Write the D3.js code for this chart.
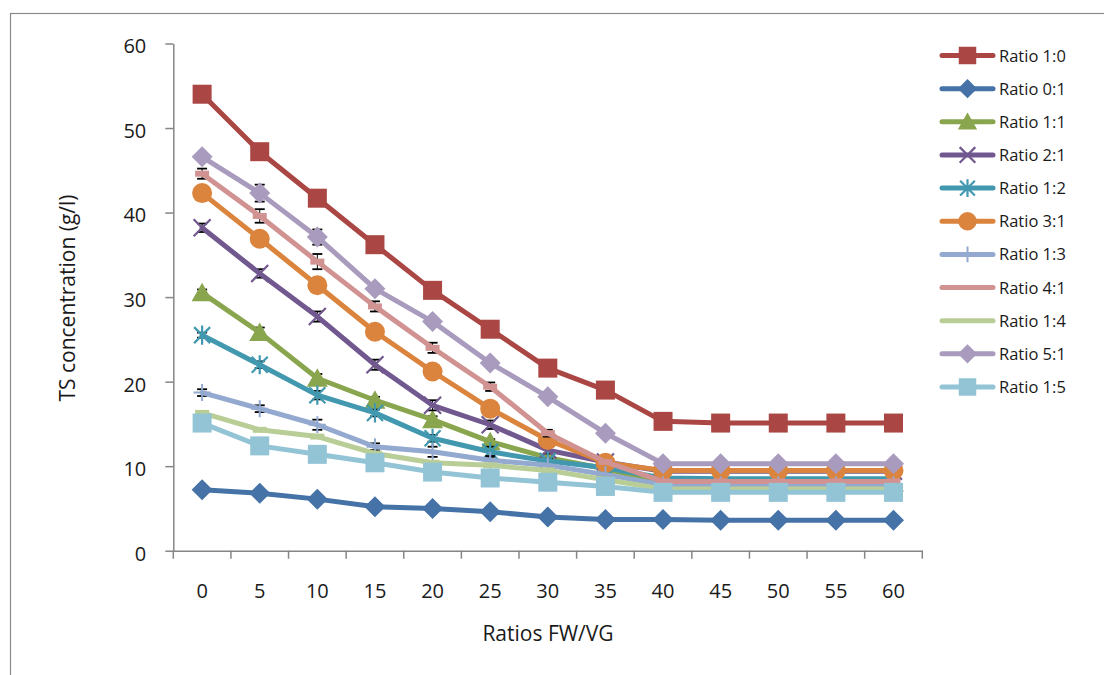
<!DOCTYPE html>
<html>
<head>
<meta charset="utf-8">
<script src="https://cdn.jsdelivr.net/npm/d3@7"></script>
<style>
  html, body { margin: 0; padding: 0; background: #fff; }
  svg { display: block; font-family: "Open Sans", "Noto Sans", sans-serif; }
</style>
</head>
<body>
<svg id="chart" width="1104" height="675"></svg>
<script>
// ---------- data ----------
const categories = ["0","5","10","15","20","25","30","35","40","45","50","55","60"];
const yTicks = [0, 10, 20, 30, 40, 50, 60];
const seriesNames = ["Ratio 1:0","Ratio 0:1","Ratio 1:1","Ratio 2:1","Ratio 1:2","Ratio 3:1","Ratio 1:3","Ratio 4:1","Ratio 1:4","Ratio 5:1","Ratio 1:5"];

const r10 = [54.0, 47.2, 41.7, 36.2, 30.8, 26.2, 21.6, 19.0, 15.3, 15.1, 15.1, 15.1, 15.1];
const r01 = [7.2, 6.8, 6.1, 5.2, 5.0, 4.6, 4.0, 3.7, 3.7, 3.6, 3.6, 3.6, 3.6];
const r11 = [30.5, 25.8, 20.4, 17.8, 15.5, 12.9, 11.0, 9.7, 8.0, 8.0, 8.0, 8.0, 8.0];
const r21 = [38.2, 32.8, 27.7, 22.0, 17.2, 14.9, 11.9, 10.5, 9.4, 9.4, 9.4, 9.4, 9.4];
const r12 = [25.5, 22.0, 18.4, 16.3, 13.3, 11.7, 10.6, 9.8, 8.6, 8.5, 8.5, 8.5, 8.5];
const r31 = [42.3, 36.9, 31.4, 25.9, 21.2, 16.8, 13.1, 10.4, 9.5, 9.5, 9.5, 9.5, 9.5];
const r13 = [18.7, 16.8, 14.9, 12.3, 11.7, 10.7, 10.1, 9.0, 7.8, 7.8, 7.8, 7.8, 7.8];
const r41 = [44.6, 39.6, 34.2, 28.9, 24.0, 19.4, 13.9, 10.5, 8.2, 8.2, 8.2, 8.2, 8.2];
const r14 = [16.3, 14.3, 13.5, 11.5, 10.4, 10.1, 9.5, 8.4, 7.3, 7.3, 7.3, 7.3, 7.3];
const r51 = [46.6, 42.3, 37.1, 31.0, 27.1, 22.2, 18.2, 13.9, 10.3, 10.3, 10.3, 10.3, 10.3];
const r15 = [15.1, 12.4, 11.4, 10.4, 9.3, 8.6, 8.1, 7.6, 6.9, 6.9, 6.9, 6.9, 6.9];

// error bar half-widths (g/l)
const e10 = [0, 0, 0, 0, 0, 0, 0, 0, 0, 0, 0, 0, 0];
const e01 = [0, 0, 0, 0, 0, 0, 0, 0, 0, 0, 0, 0, 0];
const e11 = [0.4, 0.6, 0.5, 0.4, 0.4, 0.3, 0.3, 0, 0, 0, 0, 0, 0];
const e21 = [0.5, 0.5, 0.6, 0.6, 0.6, 0.5, 0.4, 0.4, 0, 0, 0, 0, 0];
const e12 = [0.3, 0.4, 0.5, 0.4, 0.4, 0.6, 0.3, 0, 0, 0, 0, 0, 0];
const e31 = [0.4, 0.5, 0.8, 0.6, 0.5, 0.4, 0.4, 0.3, 0, 0, 0, 0, 0];
const e13 = [0.4, 0.4, 0.6, 0.4, 0.6, 0.5, 0, 0, 0, 0, 0, 0, 0];
const e41 = [0.6, 0.8, 0.9, 0.6, 0.6, 0.5, 0.4, 0, 0, 0, 0, 0, 0];
const e14 = [0, 0, 0, 0, 0, 0, 0, 0, 0, 0, 0, 0, 0];
const e51 = [0.3, 1.0, 0.9, 0.5, 0.4, 0.3, 0, 0, 0, 0, 0, 0, 0];
const e15 = [0, 0, 0, 0, 0, 0, 0, 0, 0, 0, 0, 0, 0];

const seriesValues = [r10, r01, r11, r21, r12, r31, r13, r41, r14, r51, r15];
const seriesErrors = [e10, e01, e11, e21, e12, e31, e13, e41, e14, e51, e15];
const seriesColors = ["#AA4643","#4572A7","#89A54E","#71588F","#4198AF","#DB843D","#93A9CF","#D19392","#B9CD96","#A99BBD","#93C4D6"];
const seriesMarkers = ["square","diamond","triangle","x","star","circle","plus","dash","dash","diamond","square"];

const xTitle = "Ratios FW/VG";
const yTitle = "TS concentration (g/l)";

// ---------- layout ----------
const svg = d3.select("#chart");
const plot = { left: 173.3, right: 922.3, top: 43.5, bottom: 550.7 };
const axisColor = "#868686";
const textColor = "#1a1a1a";

// outer frame
svg.append("rect")
  .attr("x", 10.5).attr("y", 13.5).attr("width", 1200).attr("height", 800)
  .attr("fill", "none").attr("stroke", "#8a8a8a").attr("stroke-width", 1.2);

const x = d3.scaleBand().domain(categories).range([plot.left, plot.right]).padding(0);
const y = d3.scaleLinear().domain([0, 60]).range([plot.bottom, plot.top]);
const cx = c => x(c) + x.bandwidth() / 2;

// y axis
const yAxis = svg.append("g").attr("transform", `translate(${plot.left},0)`)
  .call(d3.axisLeft(y).tickValues(yTicks).tickSize(8).tickSizeOuter(0).tickPadding(19));
yAxis.select(".domain").attr("stroke", axisColor).attr("stroke-width", 1.5);
yAxis.selectAll(".tick line").attr("stroke", axisColor).attr("stroke-width", 1.5);
yAxis.selectAll(".tick text").attr("fill", textColor).attr("font-size", 20)
  .attr("font-family", "Open Sans, sans-serif").attr("dy", "0.47em");

// x axis (labels centered, ticks between categories)
const xAxis = svg.append("g").attr("transform", `translate(0,${plot.bottom})`)
  .call(d3.axisBottom(x).tickSize(0).tickSizeOuter(0).tickPadding(33));
xAxis.select(".domain").attr("stroke", axisColor).attr("stroke-width", 1.5);
xAxis.selectAll(".tick text").attr("fill", textColor).attr("font-size", 20)
  .attr("font-family", "Open Sans, sans-serif");
const xTickPos = categories.map(c => x(c)).concat([x.range()[1]]);
xAxis.selectAll("line.cat-tick").data(xTickPos).enter().append("line")
  .attr("class", "cat-tick")
  .attr("x1", d => d).attr("x2", d => d).attr("y1", 0).attr("y2", 8)
  .attr("stroke", axisColor).attr("stroke-width", 1.5);

// titles
svg.append("text").attr("x", 548).attr("y", 641).attr("text-anchor", "middle")
  .attr("font-size", 21).attr("fill", textColor).text(xTitle);
svg.append("text").attr("transform", "translate(75,298) rotate(-90)").attr("text-anchor", "middle")
  .attr("font-size", 21).attr("fill", textColor).text(yTitle);

// ---------- markers ----------
function drawMarker(g, type, color, px, py, scale) {
  const s = scale || 1;
  if (type === "square") {
    const h = 9.5 * s;
    g.append("rect").attr("x", px - h).attr("y", py - h).attr("width", 2 * h).attr("height", 2 * h)
      .attr("fill", color);
  } else if (type === "diamond") {
    const h = 10.5 * s;
    g.append("path").attr("d", `M${px},${py - h}L${px + h},${py}L${px},${py + h}L${px - h},${py}Z`)
      .attr("fill", color);
  } else if (type === "triangle") {
    const h = 10 * s;
    g.append("path").attr("d", `M${px},${py - h}L${px + h * 1.05},${py + h * 0.85}L${px - h * 1.05},${py + h * 0.85}Z`)
      .attr("fill", color);
  } else if (type === "circle") {
    g.append("circle").attr("cx", px).attr("cy", py).attr("r", 10 * s).attr("fill", color);
  } else if (type === "x") {
    const h = 8.5 * s;
    g.append("path").attr("d", `M${px - h},${py - h}L${px + h},${py + h}M${px - h},${py + h}L${px + h},${py - h}`)
      .attr("stroke", color).attr("stroke-width", 2.2).attr("fill", "none");
  } else if (type === "star") {
    const h = 8 * s;
    g.append("path").attr("d", `M${px - h},${py - h}L${px + h},${py + h}M${px - h},${py + h}L${px + h},${py - h}M${px},${py - h * 1.2}L${px},${py + h * 1.2}`)
      .attr("stroke", color).attr("stroke-width", 2.2).attr("fill", "none");
  } else if (type === "plus") {
    const h = 8.5 * s;
    g.append("path").attr("d", `M${px - h},${py}L${px + h},${py}M${px},${py - h}L${px},${py + h}`)
      .attr("stroke", color).attr("stroke-width", 2).attr("fill", "none");
  } else if (type === "dash") {
    g.append("rect").attr("x", px - 7 * s).attr("y", py - 3 * s).attr("width", 14 * s).attr("height", 6 * s)
      .attr("fill", color);
  }
}

// ---------- series ----------
const line = d3.line().x((d, i) => cx(categories[i])).y(d => y(d));
const plotG = svg.append("g");

seriesValues.forEach((vals, si) => {
  const g = plotG.append("g");
  const color = seriesColors[si];
  // error bars (behind the line)
  const errs = seriesErrors[si];
  vals.forEach((v, i) => {
    const e = errs[i];
    if (!e) return;
    const px = cx(categories[i]);
    const yTop = y(v + e), yBot = y(v - e);
    g.append("line").attr("x1", px).attr("x2", px).attr("y1", yTop).attr("y2", yBot)
      .attr("stroke", "#000").attr("stroke-width", 1);
    [yTop, yBot].forEach(yy => g.append("line")
      .attr("x1", px - 5).attr("x2", px + 5).attr("y1", yy).attr("y2", yy)
      .attr("stroke", "#000").attr("stroke-width", 1.8));
  });
  g.append("path").datum(vals).attr("d", line)
    .attr("fill", "none").attr("stroke", color).attr("stroke-width", 5)
    .attr("stroke-linejoin", "round").attr("stroke-linecap", "round");
  vals.forEach((v, i) => drawMarker(g, seriesMarkers[si], color, cx(categories[i]), y(v), 1));
});

// ---------- legend ----------
const legend = svg.append("g");
seriesNames.forEach((name, i) => {
  const ly = 55.5 + i * 33.15;
  const color = seriesColors[i];
  const g = legend.append("g");
  g.append("line").attr("x1", 942).attr("x2", 993).attr("y1", ly).attr("y2", ly)
    .attr("stroke", color).attr("stroke-width", 5).attr("stroke-linecap", "round");
  if (seriesMarkers[i] !== "dash") drawMarker(g, seriesMarkers[i], color, 967.5, ly, 0.92);
  g.append("text").attr("x", 999).attr("y", ly + 6).attr("font-size", 16.5)
    .attr("fill", textColor).text(name);
});
</script>
</body>
</html>
